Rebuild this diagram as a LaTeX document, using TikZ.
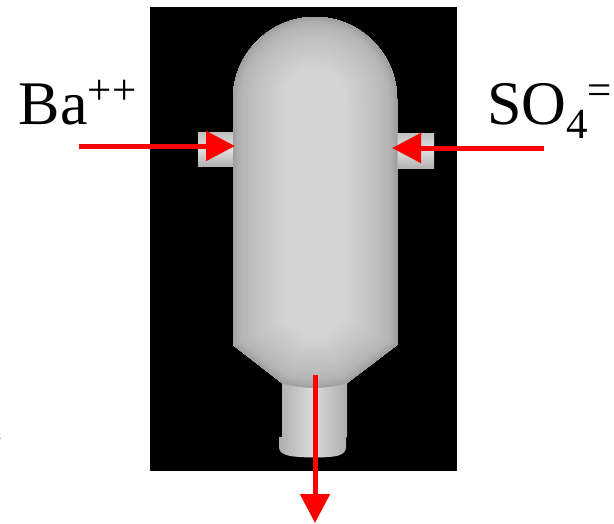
\documentclass[tikz,border=0pt]{standalone}
\usepackage{fontspec}
\setmainfont{Liberation Serif}
\usetikzlibrary{arrows.meta}
\tikzset{
  flow/.style={draw={rgb,255:red,255;green,0;blue,0},line width=5pt,-{Triangle[length=29pt,width=29pt]}},
  lab/.style={anchor=base west,inner sep=0pt,outer sep=0pt,font=\fontsize{62}{62}\selectfont},
}
\newcommand{\smalltxt}[1]{{\fontsize{43}{43}\selectfont #1}}
\begin{document}
\begin{tikzpicture}[x=1pt,y=-1pt]
\useasboundingbox (0,0) rectangle (614,523);
\fill[white] (0,0) rectangle (614,523);
\fill[black] (150,7) rectangle (457,471);
\fill[gray!70] (0,437.5) rectangle (1,439);
% side stubs
\shade[top color=black!24,bottom color=black!30,middle color=black!12,draw=none] (198,132) rectangle (236,166);
\shade[top color=black!24,bottom color=black!30,middle color=black!12,draw=none] (396,133) rectangle (434,168);
% neck
\shade[left color=black!32,right color=black!32,middle color=black!14] (282,380) -- (282,437) -- (279,437) -- (279,447) .. controls (279,452) and (282,454) .. (290,456) .. controls (305,458) and (325,458) .. (337,456) .. controls (343,454) and (346,452) .. (346,447) -- (346,437) -- (347,437) -- (347,380) -- cycle;
% body
\def\bodypath{(233,345) -- (233,99) arc[start angle=180,end angle=360,x radius=82,y radius=82] -- (397,345) -- (347,383) .. controls (330,389) and (299,389) .. (282,383) -- cycle}
\fill[black!17] \bodypath;
\begin{scope}
\clip \bodypath;
\foreach \w/\g in {100/18,92/19,84/20,76/21,68/22,60/23,52/24,44/25,38/26,32/27,26/28,20/29,16/30,12/32,8/34,4/37}{
  \draw[black!\g,line width=\w pt,line join=round] \bodypath;
}
\end{scope}
% labels
\node[lab] (ba) at (19,124) {Ba\raisebox{20pt}{\smalltxt{++}}};
\node[lab] (so) at (487,124) {SO\raisebox{-14pt}{\smalltxt{4}}\raisebox{20pt}{\smalltxt{=}}};
% flows
\coordinate (lstart) at (79,146);
\coordinate (ltip) at (235,146);
\coordinate (rstart) at (544,148);
\coordinate (rtip) at (392,148);
\coordinate (bstart) at (315,375);
\coordinate (btip) at (315,523);
\draw[flow] (lstart) -- (ltip);
\draw[flow] (rstart) -- (rtip);
\draw[flow] (bstart) -- (btip);
\end{tikzpicture}
\end{document}
